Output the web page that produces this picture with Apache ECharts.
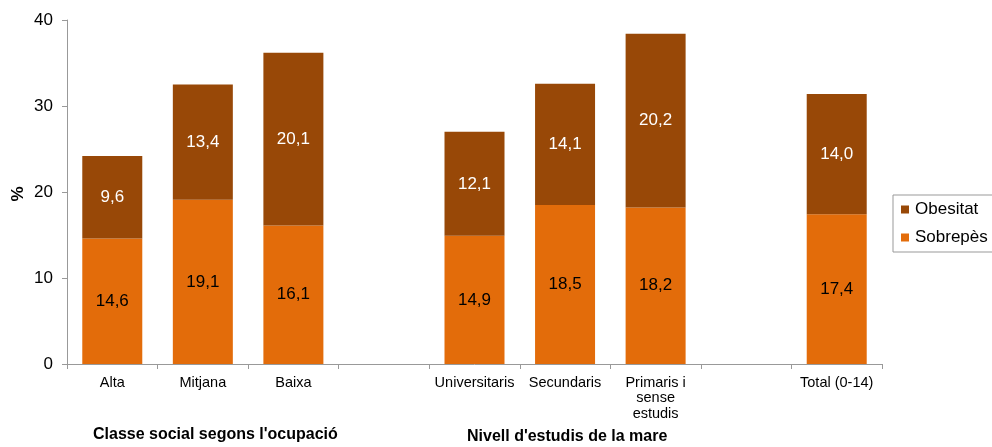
<!DOCTYPE html>
<html><head><meta charset="utf-8">
<script src="https://cdn.jsdelivr.net/npm/echarts@6/dist/echarts.min.js"></script>
<style>html,body{margin:0;padding:0;background:#fff}#c{width:992px;height:447px}</style>
</head><body><div id="c"></div>
<script>
const categories = ['Alta','Mitjana','Baixa','','Universitaris','Secundaris','Primaris i\nsense\nestudis','','Total (0-14)'];
const sobrepes = [14.6, 19.1, 16.1, null, 14.9, 18.5, 18.2, null, 17.4];
const obesitat = [9.6, 13.4, 20.1, null, 12.1, 14.1, 20.2, null, 14.0];
const groupLabels = ['Classe social segons l\'ocupació', 'Nivell d\'estudis de la mare'];
const yAxisTitle = '%';
const yTicks = [0, 10, 20, 30, 40];

const chart = echarts.init(document.getElementById('c'), null, {renderer:'canvas'});
const fmt = p => p.value == null ? '' : p.value.toFixed(1).replace('.', ',');
const font = 'Liberation Sans, Arial, sans-serif';
chart.setOption({
  animation: false,
  textStyle: {fontFamily: font},
  grid: {left: 67, right: 110, top: 20, bottom: 83, outerBoundsMode: 'none', containLabel: false},
  legend: {
    orient: 'vertical', left: 893, top: 195,
    data: ['Obesitat', 'Sobrepès'],
    icon: 'rect', itemWidth: 8, itemHeight: 8, itemGap: 11,
    borderColor: '#999', borderWidth: 1, borderRadius: 0,
    padding: [6, 20, 6, 8],
    textStyle: {fontSize: 17, color: '#000', fontFamily: font, padding: [0,0,0,1]}
  },
  xAxis: {
    type: 'category', data: categories,
    axisLine: {lineStyle: {color: '#999'}},
    axisTick: {show: true, length: 5, lineStyle: {color: '#999'}},
    axisLabel: {color: '#000', fontSize: 14.5, fontFamily: font, lineHeight: 15.5, margin: 11, interval: 0}
  },
  yAxis: {
    type: 'value', min: yTicks[0], max: yTicks[yTicks.length-1], interval: 10,
    splitLine: {show: false},
    axisLine: {show: true, lineStyle: {color: '#999'}},
    axisTick: {show: true, length: 5, lineStyle: {color: '#999'}},
    axisLabel: {color: '#000', fontSize: 17, fontFamily: font, margin: 14}
  },
  series: [
    {name: 'Sobrepès', type: 'bar', stack: 't', data: sobrepes, barWidth: 60,
     itemStyle: {color: '#E36C0A'},
     label: {show: true, position: 'inside', formatter: fmt, color: '#000', fontSize: 17, fontFamily: font}},
    {name: 'Obesitat', type: 'bar', stack: 't', data: obesitat, barWidth: 60,
     itemStyle: {color: '#984807'},
     label: {show: true, position: 'inside', formatter: fmt, color: '#fff', fontSize: 17, fontFamily: font}}
  ],
  graphic: [
    {type: 'text', x: 18, y: 194, rotation: Math.PI / 2,
     style: {text: yAxisTitle, font: 'bold 17px ' + font, fill: '#000', align: 'center', verticalAlign: 'middle'}},
    {type: 'text', left: 93, top: 427, style: {text: groupLabels[0], font: 'bold 16px ' + font, fill: '#000'}},
    {type: 'text', left: 467, top: 429, style: {text: groupLabels[1], font: 'bold 16px ' + font, fill: '#000'}}
  ]
});
</script></body></html>
